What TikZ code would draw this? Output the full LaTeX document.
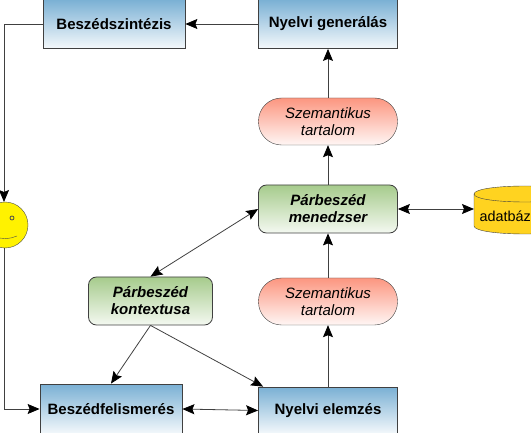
\documentclass[tikz,border=0pt]{standalone}
\usepackage{fontspec}
\setmainfont{Liberation Sans}
\usepackage{xcolor}
\usetikzlibrary{arrows.meta}
\definecolor{boxblue}{RGB}{122,176,212}
\definecolor{boxgreen}{RGB}{166,203,140}
\definecolor{boxred}{RGB}{252,150,128}
\definecolor{dbyellow}{RGB}{255,211,32}
\tikzset{
    blockbox/.style={draw=black!75, thick, minimum width=139pt, minimum height=49pt, top color=boxblue, bottom color=boxblue!8, font=\bfseries\fontsize{15}{17}\selectfont},
    managerbox/.style={draw=black!75, thick, rounded corners=8pt, minimum height=48pt, top color=boxgreen, bottom color=boxgreen!12, align=center, font=\bfseries\itshape\fontsize{15}{17}\selectfont},
    contentbox/.style={draw=black!75, rounded corners=23pt, minimum width=139pt, minimum height=47pt, top color=boxred, bottom color=boxred!8, align=center, font=\itshape\fontsize{15}{17}\selectfont},
    link/.style={draw=black!75, thick, -{Stealth[black,length=12pt,width=10pt,inset=2pt]}},
    dlink/.style={draw=black!75, thick, {Stealth[black,length=12pt,width=10pt,inset=2pt]}-{Stealth[black,length=12pt,width=10pt,inset=2pt]}}
}
\begin{document}
\begin{tikzpicture}[x=1pt, y=-1pt]
    \useasboundingbox (0, 0) rectangle (531, 433);
    \clip (0, 0) rectangle (531, 433);

    \node[blockbox, minimum width=142pt] (synth) at (114, 24) {Beszédszintézis};
    \node[blockbox] (gen) at (328, 24) {Nyelvi generálás};
    \node[contentbox] (semtop) at (328, 121.5) {Szemantikus\\tartalom};
    \node[managerbox, minimum width=139pt] (mgr) at (328, 209) {Párbeszéd\\menedzser};
    \node[managerbox, minimum width=124pt] (ctx) at (150.5, 301) {Párbeszéd\\kontextusa};
    \node[contentbox] (semlow) at (328, 301.5) {Szemantikus\\tartalom};
    \node[blockbox, minimum width=142pt, minimum height=50pt] (rec) at (111, 409) {Beszédfelismerés};
    \node[blockbox, minimum height=47pt] (parse) at (328, 410.5) {Nyelvi elemzés};

    % adatbazis
    \draw[draw=black!75, fill=dbyellow] (474, 194) -- (474, 226) .. controls (474, 231) and (498, 234) .. (525, 234) .. controls (552, 234) and (576, 231) .. (576, 226) -- (576, 194) .. controls (576, 189) and (552, 186) .. (525, 186) .. controls (498, 186) and (474, 189) .. (474, 194) -- cycle;
    \draw[draw=black!75] (474, 194) .. controls (474, 199) and (498, 202) .. (525, 202) .. controls (552, 202) and (576, 199) .. (576, 194);
    \node[inner sep=0pt, anchor=base west, font=\fontsize{14.4}{17}\selectfont] (db) at (479.5, 222) {adatbáz};
    \coordinate (dbl) at (474, 209);

    % felhasznalo
    \node[circle, draw=black!70, fill=yellow, minimum size=46pt, inner sep=0pt] (user) at (5, 225) {};
    \draw[draw=black!70, thick] (12, 218) circle (2);
    \draw[draw=black!70] (-5, 236) .. controls (2, 240) and (10, 239) .. (17, 236);

    \coordinate (synthout) at (4, 24);
    \coordinate (userin) at (4, 202);
    \coordinate (userout) at (4, 248);
    \coordinate (recin) at (4, 409);

    \draw[link] (gen) -- (synth);
    \draw[link] (semtop) -- (gen);
    \draw[link] (mgr) -- (semtop);
    \draw[link] (semlow) -- (mgr);
    \draw[link] (parse) -- (semlow);
    \draw[link] (synth.west) -- (synthout) -- (userin);
    \draw[link] (userout) -- (recin) -- (rec.west);
    \draw[dlink] (rec.east) -- (parse.west);
    \draw[dlink] (mgr.east) -- (dbl);
    \draw[dlink] (mgr.west) -- (ctx.north);
    \draw[link] (ctx.south) -- (rec.north);
    \draw[link] (ctx.south) -- ([xshift=5pt]parse.north west);
\end{tikzpicture}
\end{document}
